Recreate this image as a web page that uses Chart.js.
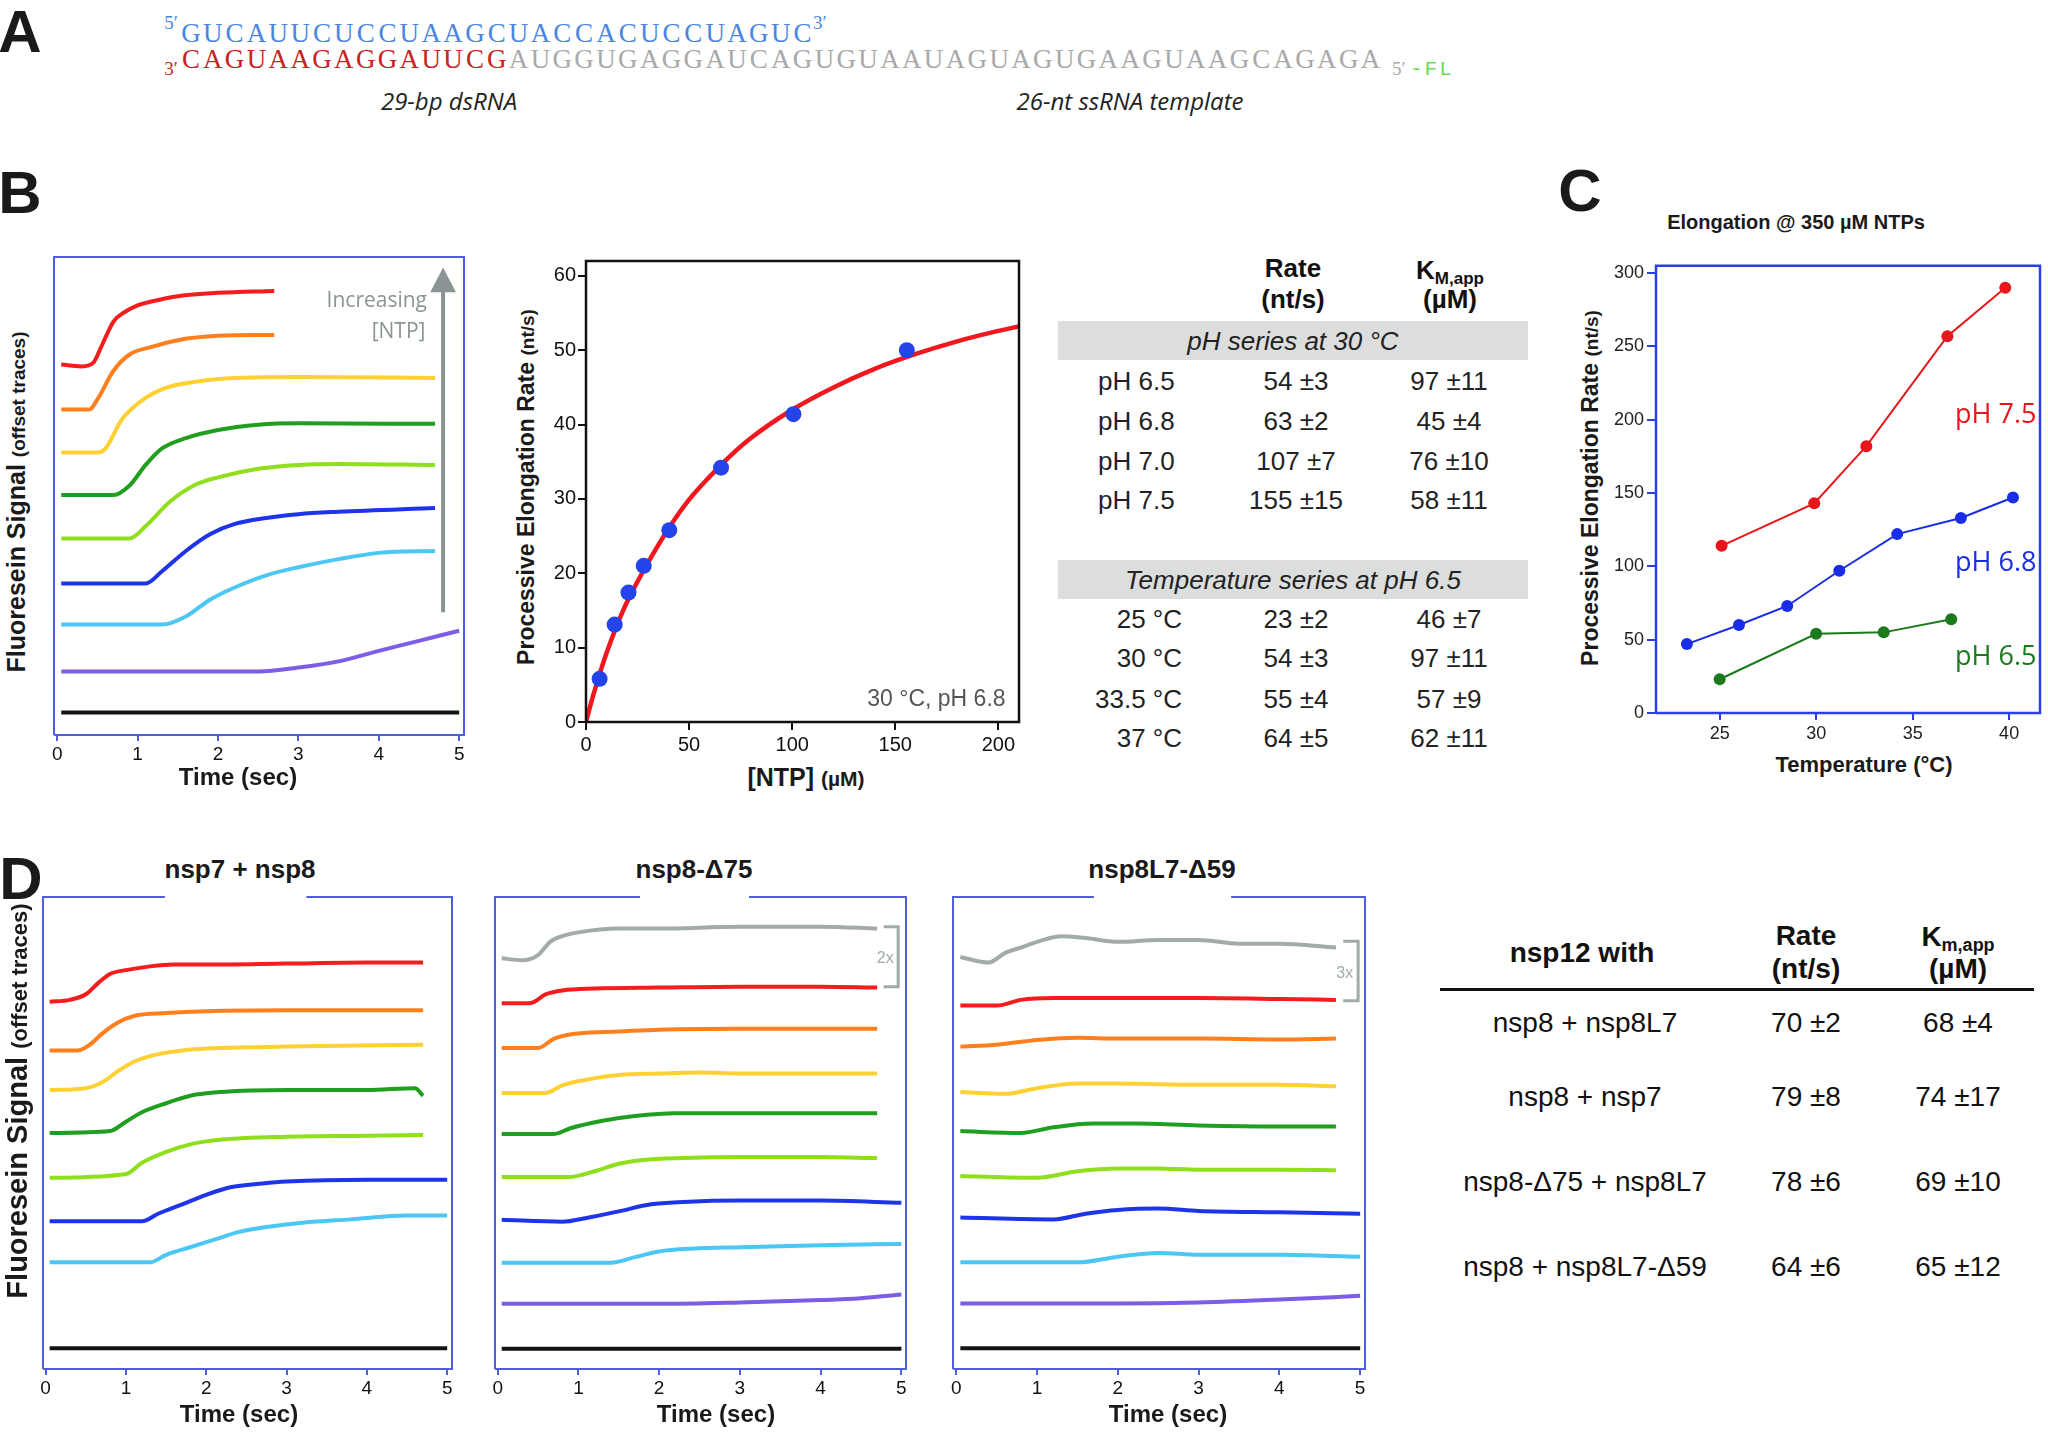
<!DOCTYPE html>
<html>
<head>
<meta charset="utf-8">
<script src="https://cdn.jsdelivr.net/npm/chart.js@4.4.1/dist/chart.umd.min.js"></script>
<style>
  body { margin: 0; background: #fff; }
  #page { position: relative; width: 2048px; height: 1433px; overflow: hidden; background: #fff;
          font-family: "Liberation Sans", Arial, sans-serif; color: #1a1a1a; }
  .t { position: absolute; white-space: nowrap; line-height: 1; transform: translate(-50%, -50%); }
  .t.l { transform: translate(0, -50%); }
  .t.r { transform: translate(-100%, -50%); }
  .t.rot { transform: translate(-50%, -50%) rotate(-90deg); }
  .nt { display: inline-block; width: 21.85px; text-align: center; }
  canvas { position: absolute; }
  .bar { position: absolute; background: #dcdedd; }
  .rule { position: absolute; background: #111; }
</style>
</head>
<body>
<div id="page">
  <canvas id="cB1" width="450" height="518" style="left:34px;top:252px"></canvas>
  <canvas id="cB2" width="493" height="510" style="left:541px;top:247px"></canvas>
  <canvas id="cC" width="440" height="496" style="left:1606px;top:252px"></canvas>
  <canvas id="cD1" width="449" height="512" style="left:23px;top:892px"></canvas>
  <canvas id="cD2" width="451" height="512" style="left:475px;top:892px"></canvas>
  <canvas id="cD3" width="452" height="512" style="left:933px;top:892px"></canvas>
</div>
<script>
// ==========================================
// DATOS
// ==========================================
const seqTop = 'GUCAUUCUCCUAAGCUACCACUCCUAGUC';
const seqBottomDs = 'CAGUAAGAGGAUUCG';
const seqBottomSs = 'AUGGUGAGGAUCAGUGUAAUAGUAGUGAAGUAAGCAGAGA';

const timeTicks = [0, 1, 2, 3, 4, 5];

// panel B, trazas (señal desplazada, unidades arbitrarias 0-100) [tiempo s, señal]
const bRed    = [[0.05,77.5],[0.3,77.1],[0.45,77.9],[0.55,81.3],[0.7,86.5],[0.85,88.6],[1.0,89.9],[1.2,90.8],[1.5,91.8],[2.0,92.5],[2.7,92.9]];
const bOrange = [[0.05,68.1],[0.4,68.1],[0.5,70.2],[0.7,76.2],[0.9,79.6],[1.2,81.3],[1.5,82.6],[2.0,83.5],[2.7,83.7]];
const bYellow = [[0.05,59.1],[0.5,59.1],[0.6,59.9],[0.8,65.9],[1.0,69.3],[1.3,72.3],[1.6,73.6],[2.0,74.5],[3.0,74.9],[4.7,74.7]];
const bGreen  = [[0.05,50.2],[0.7,50.2],[0.9,52.2],[1.1,56.5],[1.3,59.9],[1.6,62.1],[2.0,63.8],[2.5,64.9],[3.0,65.2],[4.7,65.1]];
const bLime   = [[0.05,41.1],[0.9,41.1],[1.1,43.7],[1.4,48.8],[1.7,52.2],[2.0,53.9],[2.5,55.7],[3.0,56.5],[3.5,56.7],[4.7,56.5]];
const bBlue   = [[0.05,31.7],[1.1,31.7],[1.3,34.2],[1.6,38.5],[1.9,42.0],[2.2,44.1],[2.6,45.4],[3.0,46.2],[3.5,46.7],[4.7,47.5]];
const bCyan   = [[0.05,23.1],[1.3,23.1],[1.6,24.8],[1.9,28.3],[2.2,30.8],[2.6,33.4],[3.0,35.1],[3.5,36.8],[4.0,38.1],[4.7,38.5]];
const bPurple = [[0.05,13.3],[2.5,13.3],[3.0,14.1],[3.5,15.4],[4.0,17.6],[4.5,19.7],[5.0,21.8]];
const bBlack  = [[0.05,4.7],[5.0,4.7]];

// panel B, Michaelis-Menten
const ntpConc = [6.6, 13.9, 20.6, 28.0, 40.4, 65.5, 100.6, 155.6];
const ntpRate = [5.8, 13.1, 17.4, 21.0, 25.8, 34.2, 41.4, 50.0];
const fitConc = [0, 2.5, 5, 10, 15, 20, 30, 40, 50, 60, 70, 80, 100, 120, 140, 160, 180, 200, 210];
const fitRate = [0, 2.6, 5.0, 9.3, 13.0, 16.2, 21.4, 26.0, 29.9, 33.0, 35.8, 38.2, 42.0, 45.0, 47.5, 49.5, 51.2, 52.6, 53.2];
const ntpTicks = [0, 50, 100, 150, 200];
const mmRateTicks = [0, 10, 20, 30, 40, 50, 60];

// tabla B
const phRows = ['pH 6.5', 'pH 6.8', 'pH 7.0', 'pH 7.5'];
const phRate = ['54 ±3', '63 ±2', '107 ±7', '155 ±15'];
const phKm   = ['97 ±11', '45 ±4', '76 ±10', '58 ±11'];
const tempRows = ['25 °C', '30 °C', '33.5 °C', '37 °C'];
const tempRate = ['23 ±2', '54 ±3', '55 ±4', '64 ±5'];
const tempKm   = ['46 ±7', '97 ±11', '57 ±9', '62 ±11'];

// panel C
const temp75 = [25.1, 29.9, 32.6, 36.8, 39.8];
const rate75 = [114, 143, 182, 257, 290];
const temp68 = [23.3, 26.0, 28.5, 31.2, 34.2, 37.5, 40.2];
const rate68 = [47, 60, 73, 97, 122, 133, 147];
const temp65 = [25.0, 30.0, 33.5, 37.0];
const rate65 = [23, 54, 55, 64];
const tempTicks = [25, 30, 35, 40];
const cRateTicks = [0, 50, 100, 150, 200, 250, 300];

// panel D, trazas
const d1Red    = [[0.05,77.8],[0.3,78.2],[0.5,79.4],[0.65,81.7],[0.8,83.7],[1.0,84.5],[1.3,85.3],[1.6,85.7],[2.0,85.7],[3.0,85.9],[4.0,86.1],[4.7,86.1]];
const d1Orange = [[0.05,67.5],[0.4,67.5],[0.55,68.7],[0.7,71.0],[0.9,73.4],[1.1,74.8],[1.5,75.4],[2.0,75.8],[3.0,76.0],[4.7,76.0]];
const d1Yellow = [[0.05,59.1],[0.5,59.5],[0.7,60.7],[0.9,63.1],[1.1,65.1],[1.4,66.7],[1.7,67.5],[2.0,67.9],[3.0,68.3],[4.7,68.7]];
const d1Green  = [[0.05,50.0],[0.8,50.4],[1.0,52.4],[1.2,54.4],[1.5,56.3],[1.8,57.9],[2.2,58.7],[3.0,59.1],[4.0,59.1],[4.6,59.5],[4.7,57.9]];
const d1Lime   = [[0.05,40.5],[1.0,41.3],[1.2,43.7],[1.5,46.0],[1.8,47.6],[2.2,48.6],[3.0,49.2],[4.0,49.4],[4.7,49.6]];
const d1Blue   = [[0.05,31.3],[1.2,31.3],[1.4,32.9],[1.7,34.9],[2.0,36.9],[2.3,38.5],[2.7,39.3],[3.0,39.7],[4.0,40.1],[5.0,40.1]];
const d1Cyan   = [[0.05,22.6],[1.3,22.6],[1.5,24.2],[1.8,25.8],[2.1,27.4],[2.4,29.0],[2.8,30.2],[3.2,31.0],[3.8,31.7],[4.5,32.5],[5.0,32.5]];
const d1Black  = [[0.05,4.4],[5.0,4.4]];

const d2Gray   = [[0.05,87.0],[0.3,86.6],[0.5,87.7],[0.65,90.5],[0.8,91.7],[1.0,92.5],[1.5,93.3],[2.0,93.3],[3.0,93.7],[4.0,93.7],[4.7,93.3]];
const d2Red    = [[0.05,77.5],[0.4,77.5],[0.6,79.4],[0.8,80.2],[1.2,80.6],[2.0,80.8],[3.0,81.0],[4.0,81.0],[4.7,80.8]];
const d2Orange = [[0.05,68.0],[0.5,68.0],[0.7,70.0],[1.0,71.1],[1.5,71.5],[2.0,71.9],[3.0,72.1],[4.7,72.1]];
const d2Yellow = [[0.05,58.5],[0.6,58.5],[0.8,60.1],[1.1,61.3],[1.5,62.3],[2.0,62.6],[2.5,62.8],[3.0,62.6],[4.7,62.6]];
const d2Green  = [[0.05,49.8],[0.7,49.8],[0.9,51.0],[1.3,52.6],[1.7,53.6],[2.2,54.2],[3.0,54.2],[4.7,54.2]];
const d2Lime   = [[0.05,40.7],[0.9,40.7],[1.2,41.9],[1.5,43.5],[1.8,44.3],[2.3,44.7],[3.0,44.9],[4.0,44.9],[4.7,44.7]];
const d2Blue   = [[0.05,31.6],[0.8,31.2],[1.1,32.0],[1.5,33.4],[1.9,34.9],[2.3,35.4],[3.0,35.7],[4.0,35.7],[5.0,35.2]];
const d2Cyan   = [[0.05,22.5],[1.4,22.5],[1.7,23.7],[2.0,24.9],[2.4,25.5],[3.0,25.8],[4.0,26.2],[5.0,26.5]];
const d2Purple = [[0.05,13.8],[2.0,13.8],[3.0,14.1],[4.0,14.6],[4.5,15.0],[5.0,15.8]];
const d2Black  = [[0.05,4.3],[5.0,4.3]];

const d3Gray   = [[0.05,87.3],[0.4,86.1],[0.6,88.1],[0.8,89.3],[1.0,90.5],[1.3,91.7],[1.6,91.3],[2.0,90.5],[2.5,90.9],[3.0,90.9],[3.5,90.1],[4.0,90.1],[4.7,89.3]];
const d3Red    = [[0.05,77.0],[0.5,77.0],[0.8,78.2],[1.2,78.6],[2.0,78.6],[3.0,78.6],[4.0,78.4],[4.7,78.2]];
const d3Orange = [[0.05,68.3],[0.5,68.7],[1.0,69.7],[1.5,70.2],[2.0,70.0],[3.0,70.0],[4.0,69.8],[4.7,70.0]];
const d3Yellow = [[0.05,58.7],[0.6,58.3],[1.0,59.5],[1.5,60.5],[2.0,60.5],[3.0,60.2],[4.0,60.2],[4.7,59.9]];
const d3Green  = [[0.05,50.4],[0.8,50.0],[1.2,51.2],[1.7,52.0],[2.2,52.0],[3.0,51.6],[4.0,51.4],[4.7,51.4]];
const d3Lime   = [[0.05,40.9],[1.0,40.5],[1.5,41.9],[2.0,42.5],[2.5,42.5],[3.0,42.2],[4.0,42.2],[4.7,42.1]];
const d3Blue   = [[0.05,32.1],[1.2,31.7],[1.6,32.9],[2.0,33.7],[2.5,34.0],[3.0,33.5],[4.0,33.2],[5.0,32.9]];
const d3Cyan   = [[0.05,22.6],[1.5,22.6],[2.0,23.8],[2.5,24.6],[3.0,24.2],[4.0,24.2],[5.0,23.8]];
const d3Purple = [[0.05,13.9],[2.0,13.9],[3.0,14.1],[4.0,14.7],[5.0,15.5]];
const d3Black  = [[0.05,4.4],[5.0,4.4]];

// tabla D
const dRows = ['nsp8 + nsp8L7', 'nsp8 + nsp7', 'nsp8-Δ75 + nsp8L7', 'nsp8 + nsp8L7-Δ59'];
const dRate = ['70 ±2', '79 ±8', '78 ±6', '64 ±6'];
const dKm   = ['68 ±4', '74 ±17', '69 ±10', '65 ±12'];

// ==========================================
// COLORES
// ==========================================
const C_RED = '#f41c1c', C_ORANGE = '#ff7f1e', C_YELLOW = '#fdd133', C_GREEN = '#1f9e1f',
      C_LIME = '#8fdf1c', C_BLUE = '#1f34e8', C_CYAN = '#4cc6f4', C_PURPLE = '#7b5de6',
      C_BLACK = '#141414', C_GRAY = '#a2aaaa';
const FRAME_BLUE = '#4f5fdc';

Chart.defaults.font.family = '"Liberation Sans", Arial, sans-serif';
Chart.defaults.color = '#111';

// ==========================================
// TEXTO HTML
// ==========================================
const page = document.getElementById('page');
function put(html, x, y, style, cls) {
    const d = document.createElement('div');
    d.className = 't' + (cls ? ' ' + cls : '');
    d.style.cssText = `left:${x}px;top:${y}px;${style || ''}`;
    d.innerHTML = html;
    page.appendChild(d);
    return d;
}
const cells = (s, color) => s.split('').map(c => `<span class="nt" style="color:${color}">${c}</span>`).join('');

// letras de panel
const big = 'font:bold 60px "Liberation Sans"';
put('A', 20, 31, big);
put('B', 20, 192, big);
put('C', 1580, 190, big);
put('D', 21, 878, big);

// panel A - secuencias (celdas de ancho fijo)
const serif = 'font-family:"Liberation Serif",serif;font-size:27px';
const serifSmall = 'font-family:"Liberation Serif",serif;font-size:19px';
put(cells(seqTop, '#4a86e0'), 180, 33, serif, 'l');
put('5′', 178, 22, serifSmall + ';color:#4a86e0', 'r');
put('3′', 813, 22, serifSmall + ';color:#4a86e0', 'l');
put(cells(seqBottomDs, '#c8231f') + cells(seqBottomSs, '#a9a9a9'), 180, 59, serif, 'l');
put('3′', 178, 68, serifSmall + ';color:#c8231f', 'r');
put('5′', 1392, 68, serifSmall + ';color:#a9a9a9', 'l');
put('-FL', 1410, 69, 'font-family:"Liberation Mono",monospace;font-size:21px;letter-spacing:2px;color:#66dd55', 'l');
put('29-bp dsRNA', 449, 100, 'font:italic 24px "Open Sans";color:#222');
put('26-nt ssRNA template', 1130, 100, 'font:italic 24px "Open Sans";color:#222');

// títulos de ejes
put('Fluoresein Signal <span style="font-size:19px">(offset traces)</span>', 16, 502, 'font:bold 25px "Liberation Sans"', 'rot');
put('Fluoresein Signal <span style="font-size:22px">(offset traces)</span>', 17, 1101, 'font:bold 29px "Liberation Sans"', 'rot');
const tStyle = 'font:bold 24px "Liberation Sans"';
put('Time (sec)', 238, 777, tStyle);
put('Time (sec)', 239, 1414, tStyle);
put('Time (sec)', 716, 1414, tStyle);
put('Time (sec)', 1168, 1414, tStyle);

put('Processive Elongation Rate <span style="font-size:19px">(nt/s)</span>', 526, 487, 'font:bold 23px "Liberation Sans"', 'rot');
put('[NTP] <span style="font-size:21px">(µM)</span>', 806, 777, 'font:bold 25px "Liberation Sans"');

put('Elongation @ 350 µM NTPs', 1796, 222, 'font:bold 20px "Liberation Sans"');
put('Processive Elongation Rate <span style="font-size:19px">(nt/s)</span>', 1590, 488, 'font:bold 23px "Liberation Sans"', 'rot');
put('Temperature (°C)', 1864, 765, 'font:bold 22px "Liberation Sans"');

const dTitle = 'font:bold 26px "Liberation Sans"';
put('nsp7 + nsp8', 240, 869, dTitle);
put('nsp8-Δ75', 694, 869, dTitle);
put('nsp8L7-Δ59', 1162, 869, dTitle);

// tabla B
const tb = 'font:26px "Liberation Sans";color:#222';
const tbh = 'font:bold 26px "Liberation Sans";color:#111';
put('Rate', 1293, 268, tbh);
put('(nt/s)', 1293, 299, tbh);
put('K<span style="font-size:17px;position:relative;top:5px">M,app</span>', 1450, 270, tbh);
put('(µM)', 1450, 299, tbh);
[[321, 'pH series at 30 °C'], [560, 'Temperature series at pH 6.5']].forEach(([y, s]) => {
    const b = document.createElement('div');
    b.className = 'bar';
    b.style.cssText = `left:1058px;top:${y}px;width:470px;height:39px`;
    page.appendChild(b);
    put(s, 1293, y + 20, 'font:italic 26px "Liberation Sans";color:#222');
});
const phY = [381, 421, 461, 500], tempY = [619, 658, 699, 738];
phRows.forEach((s, i) => {
    put(s, 1098, phY[i], tb, 'l');
    put(phRate[i], 1296, phY[i], tb);
    put(phKm[i], 1449, phY[i], tb);
});
tempRows.forEach((s, i) => {
    put(s, 1182, tempY[i], tb, 'r');
    put(tempRate[i], 1296, tempY[i], tb);
    put(tempKm[i], 1449, tempY[i], tb);
});

// tabla D
const td = 'font:28px "Liberation Sans";color:#111';
const tdh = 'font:bold 28px "Liberation Sans";color:#111';
put('nsp12 with', 1582, 953, tdh);
put('Rate', 1806, 936, tdh);
put('(nt/s)', 1806, 969, tdh);
put('K<span style="font-size:18px;position:relative;top:5px">m,app</span>', 1958, 937, tdh);
put('(µM)', 1958, 969, tdh);
const rule = document.createElement('div');
rule.className = 'rule';
rule.style.cssText = 'left:1440px;top:988px;width:594px;height:3px';
page.appendChild(rule);
const dY = [1023, 1097, 1182, 1267];
dRows.forEach((s, i) => {
    put(s, 1585, dY[i], td);
    put(dRate[i], 1806, dY[i], td);
    put(dKm[i], 1958, dY[i], td);
});

// ==========================================
// GRÁFICAS
// ==========================================
const framePlugin = {
    id: 'frame',
    afterDraw(chart, args, o) {
        if (!o || !o.color) return;
        const { left, top, right, bottom } = chart.chartArea;
        const ctx = chart.ctx;
        ctx.save();
        ctx.strokeStyle = o.color;
        ctx.lineWidth = o.width || 2;
        ctx.beginPath();
        ctx.moveTo(left, bottom);
        ctx.lineTo(left, top);
        if (o.gap) {
            const w = right - left;
            ctx.lineTo(left + o.gap[0] * w, top);
            ctx.moveTo(left + o.gap[1] * w, top);
        }
        ctx.lineTo(right, top);
        ctx.lineTo(right, bottom);
        ctx.lineTo(left, bottom);
        ctx.stroke();
        ctx.restore();
    }
};
Chart.register(framePlugin);

const fixedTicks = list => axis => { axis.ticks = list.map(v => ({ value: v })); };
const toXY = (xs, ys) => xs.map((x, i) => ({ x, y: ys[i] }));
const pairs = arr => arr.map(p => ({ x: p[0], y: p[1] }));

function traceChart(id, traces, xMin, xMax, gap, notes) {
    const datasets = traces.map(([pts, color]) => ({
        data: pairs(pts),
        showLine: true,
        borderColor: color,
        borderWidth: 4,
        pointRadius: 0,
        cubicInterpolationMode: 'monotone'
    }));
    return new Chart(document.getElementById(id), {
        type: 'scatter',
        data: { datasets },
        options: {
            responsive: false, animation: false, devicePixelRatio: 1,
            layout: { padding: { left: 20, right: 20, top: 5, bottom: 0 } },
            plugins: { legend: { display: false }, tooltip: { enabled: false },
                       frame: { color: FRAME_BLUE, width: 2, gap } },
            scales: {
                x: {
                    type: 'linear', min: xMin, max: xMax,
                    afterBuildTicks: fixedTicks(timeTicks),
                    afterFit: s => { s.height = 35; },
                    ticks: { font: { size: 19 }, color: '#111', padding: 2, maxRotation: 0, autoSkip: false },
                    grid: { display: true, drawOnChartArea: false, drawTicks: true, tickLength: 6, color: FRAME_BLUE, lineWidth: 2 },
                    border: { display: false }
                },
                y: { display: false, min: 0, max: 100 }
            }
        },
        plugins: notes ? [{ id: 'notes' + id, afterDatasetsDraw: notes }] : []
    });
}

// flecha "Increasing [NTP]"
function arrowNotes(chart) {
    const { ctx, scales: { x, y } } = chart;
    const ax = x.getPixelForValue(4.8);
    ctx.save();
    ctx.strokeStyle = '#8a9494';
    ctx.fillStyle = '#8a9494';
    ctx.lineWidth = 4;
    ctx.beginPath();
    ctx.moveTo(ax, y.getPixelForValue(25.7));
    ctx.lineTo(ax, y.getPixelForValue(93));
    ctx.stroke();
    ctx.beginPath();
    ctx.moveTo(ax, y.getPixelForValue(97.8));
    ctx.lineTo(x.getPixelForValue(4.64), y.getPixelForValue(92.6));
    ctx.lineTo(x.getPixelForValue(4.96), y.getPixelForValue(92.6));
    ctx.closePath();
    ctx.fill();
    ctx.font = '21px "Open Sans"';
    ctx.textAlign = 'right';
    ctx.textBaseline = 'middle';
    ctx.fillText('Increasing', x.getPixelForValue(4.6), y.getPixelForValue(90.8));
    ctx.fillText('[NTP]', x.getPixelForValue(4.58), y.getPixelForValue(84.3));
    ctx.restore();
}

function bracketNotes(tx, tLeft, vTop, vBottom, label, vLabel) {
    return chart => {
        const { ctx, scales: { x, y } } = chart;
        const px = x.getPixelForValue(tx), pl = x.getPixelForValue(tLeft);
        const pt = y.getPixelForValue(vTop), pb = y.getPixelForValue(vBottom);
        ctx.save();
        ctx.strokeStyle = C_GRAY;
        ctx.lineWidth = 3;
        ctx.beginPath();
        ctx.moveTo(pl, pt); ctx.lineTo(px, pt); ctx.lineTo(px, pb); ctx.lineTo(pl, pb);
        ctx.stroke();
        ctx.fillStyle = C_GRAY;
        ctx.font = '16px "Liberation Sans"';
        ctx.textAlign = 'center';
        ctx.textBaseline = 'middle';
        ctx.fillText(label, x.getPixelForValue(tLeft + 0.02), y.getPixelForValue(vLabel));
        ctx.restore();
    };
}

traceChart('cB1', [
    [bRed, C_RED], [bOrange, C_ORANGE], [bYellow, C_YELLOW], [bGreen, C_GREEN], [bLime, C_LIME],
    [bBlue, C_BLUE], [bCyan, C_CYAN], [bPurple, C_PURPLE], [bBlack, C_BLACK]
], -0.04, 5.06, null, arrowNotes);

traceChart('cD1', [
    [d1Red, C_RED], [d1Orange, C_ORANGE], [d1Yellow, C_YELLOW], [d1Green, C_GREEN], [d1Lime, C_LIME],
    [d1Blue, C_BLUE], [d1Cyan, C_CYAN], [d1Black, C_BLACK]
], -0.033, 5.06, [0.298, 0.644]);

traceChart('cD2', [
    [d2Gray, C_GRAY], [d2Red, C_RED], [d2Orange, C_ORANGE], [d2Yellow, C_YELLOW], [d2Green, C_GREEN],
    [d2Lime, C_LIME], [d2Blue, C_BLUE], [d2Cyan, C_CYAN], [d2Purple, C_PURPLE], [d2Black, C_BLACK]
], -0.033, 5.057, [0.353, 0.618], bracketNotes(4.96, 4.78, 93.7, 81.0, '2x', 87.0));

traceChart('cD3', [
    [d3Gray, C_GRAY], [d3Red, C_RED], [d3Orange, C_ORANGE], [d3Yellow, C_YELLOW], [d3Green, C_GREEN],
    [d3Lime, C_LIME], [d3Blue, C_BLUE], [d3Cyan, C_CYAN], [d3Purple, C_PURPLE], [d3Black, C_BLACK]
], -0.041, 5.06, [0.342, 0.675], bracketNotes(4.975, 4.79, 90.6, 78.0, '3x', 83.7));

// Michaelis-Menten
new Chart(document.getElementById('cB2'), {
    type: 'scatter',
    data: {
        datasets: [
            { data: toXY(ntpConc, ntpRate), pointRadius: 8, pointBackgroundColor: '#2443e8', pointBorderWidth: 0, clip: false },
            { data: toXY(fitConc, fitRate), showLine: true, borderColor: '#f0171e', borderWidth: 4.5, pointRadius: 0,
              cubicInterpolationMode: 'monotone' }
        ]
    },
    options: {
        responsive: false, animation: false, devicePixelRatio: 1,
        layout: { padding: { left: 0, right: 15, top: 10, bottom: 0 } },
        plugins: { legend: { display: false }, tooltip: { enabled: false }, frame: { color: '#111', width: 2.5 } },
        scales: {
            x: {
                type: 'linear', min: 0, max: 210,
                afterBuildTicks: fixedTicks(ntpTicks),
                afterFit: s => { s.height = 35; },
                ticks: { font: { size: 20 }, color: '#111', padding: 3, maxRotation: 0 },
                grid: { display: true, drawOnChartArea: false, tickLength: 8, color: '#111', lineWidth: 2 },
                border: { display: false }
            },
            y: {
                type: 'linear', min: 0, max: 62,
                afterBuildTicks: fixedTicks(mmRateTicks),
                afterFit: s => { s.width = 45; },
                ticks: { font: { size: 20 }, color: '#111', padding: 2 },
                grid: { display: true, drawOnChartArea: false, tickLength: 8, color: '#111', lineWidth: 2 },
                border: { display: false }
            }
        }
    },
    plugins: [{
        id: 'mmNote',
        afterDatasetsDraw(chart) {
            const { ctx, scales: { x, y } } = chart;
            ctx.save();
            ctx.font = '23px "Liberation Sans"';
            ctx.fillStyle = '#555';
            ctx.textAlign = 'right';
            ctx.textBaseline = 'middle';
            ctx.fillText('30 °C, pH 6.8', x.getPixelForValue(203.5), y.getPixelForValue(3));
            ctx.restore();
        }
    }]
});

// panel C
const C_C_RED = '#e8151b', C_C_BLUE = '#1a2de6', C_C_GREEN = '#1b7a1b';
const lineSet = (xs, ys, color) => ({
    data: toXY(xs, ys), showLine: true, borderColor: color, borderWidth: 2,
    pointRadius: 6, pointBackgroundColor: color, pointBorderWidth: 0, clip: false
});
new Chart(document.getElementById('cC'), {
    type: 'scatter',
    data: {
        datasets: [
            lineSet(temp75, rate75, C_C_RED),
            lineSet(temp68, rate68, C_C_BLUE),
            lineSet(temp65, rate65, C_C_GREEN)
        ]
    },
    options: {
        responsive: false, animation: false, devicePixelRatio: 1,
        layout: { padding: { left: 0, right: 6, top: 10, bottom: 0 } },
        plugins: { legend: { display: false }, tooltip: { enabled: false }, frame: { color: '#2b3ee8', width: 2.5 } },
        scales: {
            x: {
                type: 'linear', min: 21.7, max: 41.6,
                afterBuildTicks: fixedTicks(tempTicks),
                afterFit: s => { s.height = 35; },
                ticks: { font: { size: 18 }, color: '#222', padding: 3, maxRotation: 0 },
                grid: { display: true, drawOnChartArea: false, tickLength: 7, color: '#2b3ee8', lineWidth: 2 },
                border: { display: false }
            },
            y: {
                type: 'linear', min: 0, max: 305,
                afterBuildTicks: fixedTicks(cRateTicks),
                afterFit: s => { s.width = 50; },
                ticks: { font: { size: 18 }, color: '#222', padding: 3 },
                grid: { display: true, drawOnChartArea: false, tickLength: 9, color: '#2b3ee8', lineWidth: 2 },
                border: { display: false }
            }
        }
    },
    plugins: [{
        id: 'phLabels',
        afterDatasetsDraw(chart) {
            const { ctx, scales: { x, y } } = chart;
            ctx.save();
            ctx.font = '27px "Open Sans"';
            ctx.textAlign = 'left';
            ctx.textBaseline = 'middle';
            [['pH 7.5', 203, C_C_RED], ['pH 6.8', 102, C_C_BLUE], ['pH 6.5', 38, C_C_GREEN]].forEach(([s, v, c]) => {
                ctx.fillStyle = c;
                ctx.fillText(s, x.getPixelForValue(37.2), y.getPixelForValue(v));
            });
            ctx.restore();
        }
    }]
});
</script>
</body>
</html>
